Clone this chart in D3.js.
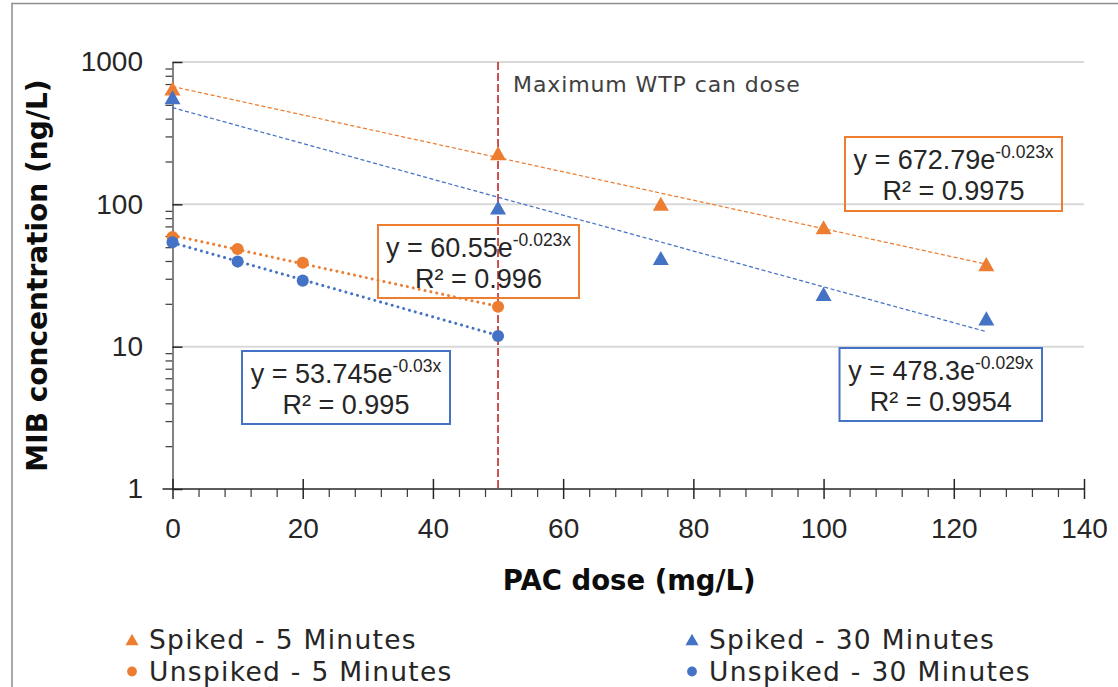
<!DOCTYPE html>
<html>
<head>
<meta charset="utf-8">
<script src="https://cdn.jsdelivr.net/npm/d3@7"></script>
<style>
  html, body { margin: 0; padding: 0; background: #fff; }
  svg { display: block; }
</style>
</head>
<body>
<div id="chart"></div>
<script>
'use strict';

// PAC dose (mg/L) for each set of runs
var spikedDoses = [0, 50, 75, 100, 125];
var unspikedDoses = [0, 10, 20, 50];

// MIB concentration (ng/L)
var spiked5 = [652, 229, 101, 69, 38];
var spiked30 = [566, 95, 42, 23.5, 15.8];
var unspiked5 = [59, 48.6, 38.9, 19.1];
var unspiked30 = [54.2, 39.6, 29.1, 11.9];

// exponential trendline labels y = a e^(bx)
var trendA = ['672.79', '478.3', '60.55', '53.745'];
var trendB = ['-0.023', '-0.029', '-0.023', '-0.03'];
var trendR2 = ['0.9975', '0.9954', '0.996', '0.995'];

var xTicks = [0, 20, 40, 60, 80, 100, 120, 140];
var yTicks = [1, 10, 100, 1000];
var maxDose = 50;

var orange = '#ED7D31';
var blue = '#4472C4';
var numFont = '"Liberation Sans", Arial, sans-serif';
var textFont = '"DejaVu Sans", sans-serif';

var series = [
  {name: 'Spiked - 5 Minutes', x: spikedDoses, y: spiked5, color: orange, shape: 'tri', trend: 0},
  {name: 'Spiked - 30 Minutes', x: spikedDoses, y: spiked30, color: blue, shape: 'tri', trend: 1},
  {name: 'Unspiked - 5 Minutes', x: unspikedDoses, y: unspiked5, color: orange, shape: 'dot', trend: 2},
  {name: 'Unspiked - 30 Minutes', x: unspikedDoses, y: unspiked30, color: blue, shape: 'dot', trend: 3}
];

var width = 1118, height = 687;
var x = d3.scaleLinear().domain([0, 140]).range([172.5, 1084]);
var y = d3.scaleLog().domain([1, 1000]).range([489, 62]);

var svg = d3.select('#chart').append('svg')
  .attr('width', width)
  .attr('height', height);

// chart frame
svg.append('path')
  .attr('d', 'M12,' + height + 'V3.5H' + width)
  .attr('fill', 'none')
  .attr('stroke', '#8c8c8c')
  .attr('stroke-width', 1.5);

// gridlines
svg.append('g')
  .selectAll('line')
  .data(yTicks.slice(1))
  .enter().append('line')
  .attr('x1', x(0)).attr('x2', x(140))
  .attr('y1', function (d) { return y(d); })
  .attr('y2', function (d) { return y(d); })
  .attr('stroke', '#d9d9d9')
  .attr('stroke-width', 2);

// minor ticks
var xMinor = d3.range(0, 141, 4).filter(function (d) { return d % 20 !== 0; });
var yMinor = [];
[1, 10, 100].forEach(function (dec) {
  d3.range(2, 10).forEach(function (m) { yMinor.push(dec * m); });
});

var xMinorAxis = svg.append('g')
  .attr('transform', 'translate(0,' + y(1) + ')')
  .call(d3.axisBottom(x).tickValues(xMinor).tickSize(8).tickFormat(''));
var yMinorAxis = svg.append('g')
  .attr('transform', 'translate(' + x(0) + ',0)')
  .call(d3.axisLeft(y).tickValues(yMinor).tickSize(7).tickFormat(''));
[xMinorAxis, yMinorAxis].forEach(function (g) {
  g.select('.domain').remove();
  g.selectAll('.tick line').attr('stroke', '#404040').attr('stroke-width', 1.25);
});

// main axes, major ticks cross the axis line
var yAxis = svg.append('g')
  .attr('transform', 'translate(' + x(0) + ',0)')
  .call(d3.axisLeft(y).tickValues(yTicks).tickFormat(d3.format('d'))
    .tickSize(10).tickSizeOuter(0).tickPadding(19.5));
yAxis.selectAll('.tick line').attr('x2', 10);
yAxis.select('.domain').attr('stroke', '#595959').attr('stroke-width', 1.5);

var xAxis = svg.append('g')
  .attr('transform', 'translate(0,' + y(1) + ')')
  .call(d3.axisBottom(x).tickValues(xTicks).tickSize(10).tickSizeOuter(0).tickPadding(19));
xAxis.selectAll('.tick line').attr('y1', -10);
xAxis.select('.domain').attr('stroke', '#262626').attr('stroke-width', 1.5)
  .attr('d', 'M' + (x(0) - 10) + ',0H' + x(140));

[xAxis, yAxis].forEach(function (g) {
  g.selectAll('.tick line').attr('stroke', '#262626').attr('stroke-width', 1.5);
  g.selectAll('.tick text')
    .attr('fill', '#262626')
    .style('font-family', numFont)
    .style('font-size', '28px');
});

// axis titles
svg.append('text')
  .attr('transform', 'translate(47,' + ((y(1) + y(1000)) / 2) + ') rotate(-90)')
  .attr('text-anchor', 'middle')
  .style('font-family', textFont)
  .style('font-weight', 'bold')
  .style('font-size', '28px')
  .attr('fill', '#0d0d0d')
  .text('MIB concentration (ng/L)');

svg.append('text')
  .attr('x', (x(0) + x(140)) / 2 + 1)
  .attr('y', 590)
  .attr('text-anchor', 'middle')
  .style('font-family', textFont)
  .style('font-weight', 'bold')
  .style('font-size', '27.5px')
  .attr('fill', '#0d0d0d')
  .text('PAC dose (mg/L)');

// max dose marker
svg.append('line')
  .attr('x1', x(maxDose)).attr('x2', x(maxDose))
  .attr('y1', y(1000)).attr('y2', y(1))
  .attr('stroke', '#b81c1c')
  .attr('stroke-width', 1.5)
  .attr('stroke-dasharray', '8,3');

svg.append('text')
  .attr('x', 513)
  .attr('y', 92)
  .style('font-family', textFont)
  .style('font-size', '22px')
  .style('letter-spacing', '0.9px')
  .attr('fill', '#404040')
  .text('Maximum WTP can dose');

// trendlines: exponential fits are straight on a log axis
var trendG = svg.append('g');
series.forEach(function (s) {
  var a = +trendA[s.trend], b = +trendB[s.trend];
  var x1 = d3.max(s.x);
  var line = trendG.append('line')
    .attr('x1', x(0)).attr('y1', y(a))
    .attr('x2', x(x1)).attr('y2', y(a * Math.exp(b * x1)))
    .attr('stroke', s.color);
  if (s.shape === 'tri') {
    line.attr('stroke-width', 1.25).attr('stroke-dasharray', '4,2.5');
  } else {
    line.attr('stroke-width', 3).attr('stroke-dasharray', '0.01,6')
      .attr('stroke-linecap', 'round');
  }
});

// markers
function drawMarker(sel, s, size) {
  if (s.shape === 'tri') {
    var w = size, h = size * 0.88;
    sel.append('path')
      .attr('d', 'M0,' + (-h / 2) + 'L' + (w / 2) + ',' + (h / 2) + 'L' + (-w / 2) + ',' + (h / 2) + 'Z')
      .attr('fill', s.color);
  } else {
    sel.append('circle')
      .attr('r', size / 2.65)
      .attr('fill', s.color);
  }
}

series.forEach(function (s) {
  var g = svg.append('g');
  s.y.forEach(function (v, i) {
    var m = g.append('g')
      .attr('transform', 'translate(' + x(s.x[i]) + ',' + y(v) + ')');
    drawMarker(m, s, 16);
  });
});

// trendline equation boxes
var boxes = [
  {trend: 0, color: orange, x0: 845, y0: 137, w: 217, h: 74},
  {trend: 1, color: blue, x0: 839.5, y0: 348, w: 202.5, h: 73},
  {trend: 2, color: orange, x0: 378, y0: 225, w: 201, h: 73},
  {trend: 3, color: blue, x0: 242, y0: 351, w: 208, h: 73}
];

boxes.forEach(function (bx) {
  var g = svg.append('g');
  g.append('rect')
    .attr('x', bx.x0).attr('y', bx.y0)
    .attr('width', bx.w).attr('height', bx.h)
    .attr('fill', 'none')
    .attr('stroke', bx.color)
    .attr('stroke-width', 2);
  var cx = bx.x0 + bx.w / 2;
  var eq = g.append('text')
    .attr('x', cx).attr('y', bx.y0 + 32)
    .attr('text-anchor', 'middle')
    .style('font-family', numFont)
    .style('font-size', '27px')
    .attr('fill', '#262626');
  eq.append('tspan').text('y = ' + trendA[bx.trend] + 'e');
  eq.append('tspan')
    .attr('dy', -11)
    .style('font-size', '17.5px')
    .text(trendB[bx.trend] + 'x');
  g.append('text')
    .attr('x', cx).attr('y', bx.y0 + 63)
    .attr('text-anchor', 'middle')
    .style('font-family', numFont)
    .style('font-size', '27px')
    .attr('fill', '#262626')
    .text('R\u00B2 = ' + trendR2[bx.trend]);
});

// legend
var legendPos = [
  {x: 132, y: 649},
  {x: 692, y: 649},
  {x: 132, y: 681},
  {x: 692, y: 681}
];
var legend = svg.append('g')
  .selectAll('g')
  .data(series)
  .enter().append('g')
  .attr('transform', function (d, i) {
    return 'translate(' + legendPos[i].x + ',' + legendPos[i].y + ')';
  });
legend.each(function (s) {
  var m = d3.select(this).append('g').attr('transform', 'translate(0,-9.5)');
  drawMarker(m, s, 13);
});
legend.append('text')
  .attr('x', 17)
  .style('font-family', textFont)
  .style('font-size', '26.5px')
  .style('letter-spacing', '1.3px')
  .attr('fill', '#262626')
  .text(function (d) { return d.name; });
</script>
</body>
</html>
